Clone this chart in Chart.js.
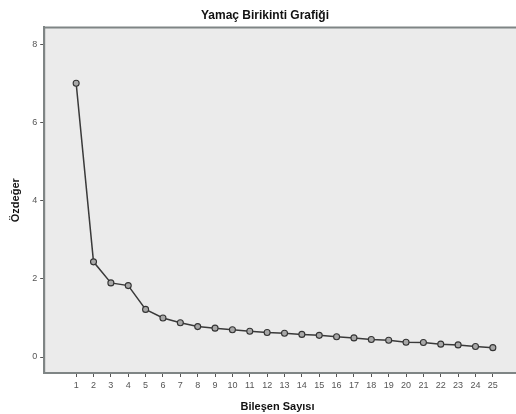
<!DOCTYPE html>
<html>
<head>
<meta charset="utf-8">
<script src="https://cdn.jsdelivr.net/npm/chart.js@4"></script>
<style>
  html, body { margin:0; padding:0; background:#fff; }
  #wrap { width:516px; height:414px; }
</style>
</head>
<body>
<div id="wrap"><canvas id="c" width="516" height="414"></canvas></div>
<script>
// bileşen numaraları ve özdeğerler
const components = [1,2,3,4,5,6,7,8,9,10,11,12,13,14,15,16,17,18,19,20,21,22,23,24,25];
const eigenvalues = [7.02,2.44,1.90,1.83,1.22,1.00,0.88,0.78,0.74,0.70,0.66,0.63,0.61,0.58,0.555,0.52,0.49,0.45,0.43,0.38,0.37,0.33,0.31,0.27,0.24];
const yTicks = [0,2,4,6,8];

const points = components.map((c,i)=>({ x: c, y: eigenvalues[i] }));

// gri arka plan + üst/sol çerçeve (sağ kenara kadar uzanıyor)
const plotBg = {
  id: "plotBg",
  beforeDraw(chart){
    const { ctx, chartArea: a } = chart;
    const right = chart.width;
    ctx.save();
    ctx.fillStyle = "#ebebeb";
    ctx.fillRect(a.left, a.top, right - a.left, a.bottom - a.top);
    ctx.strokeStyle = "#7f8585";
    ctx.lineWidth = 2;
    ctx.beginPath();
    ctx.moveTo(a.left, a.bottom);
    ctx.lineTo(a.left, a.top);
    ctx.lineTo(right, a.top);
    ctx.moveTo(a.right, a.bottom);
    ctx.lineTo(right, a.bottom);
    ctx.stroke();
    ctx.restore();
  }
};

const font = { family: "'Liberation Sans', Arial, sans-serif" };

new Chart(document.getElementById("c"), {
  type: "line",
  data: {
    datasets: [{
      data: points,
      borderColor: "#3a3a3a",
      borderWidth: 1.5,
      pointRadius: 3,
      pointBackgroundColor: "#a8a8a8",
      pointBorderColor: "#333333",
      pointBorderWidth: 1.1,
      tension: 0
    }]
  },
  options: {
    responsive: false,
    animation: false,
    layout: { padding: { left: 9, right: -5, top: 0, bottom: 0 } },
    plugins: {
      legend: { display: false },
      tooltip: { enabled: false },
      title: {
        display: true,
        text: "Yamaç Birikinti Grafiği",
        color: "#111",
        font: { ...font, size: 12, weight: "bold" },
        padding: { top: 8, bottom: 5 }
      }
    },
    scales: {
      x: {
        type: "linear",
        min: -0.84,
        max: 26.04,
        afterBuildTicks: (ax)=>{ ax.ticks = components.map(v=>({ value: v })); },
        ticks: { color: "#555", font: { ...font, size: 9 }, padding: 3, maxRotation: 0, autoSkip: false },
        grid: { drawOnChartArea: false, tickLength: 4, color: "#555" },
        border: { color: "#7f8585", width: 2 },
        title: { display: true, text: "Bileşen Sayısı", color: "#111", font: { ...font, size: 11, weight: "bold" }, padding: { top: 7, bottom: 0 } }
      },
      y: {
        min: -0.41,
        max: 8.45,
        afterBuildTicks: (ax)=>{ ax.ticks = yTicks.map(v=>({ value: v })); },
        ticks: { color: "#555", font: { ...font, size: 9 }, padding: 3 },
        grid: { drawOnChartArea: false, tickLength: 4, color: "#555" },
        border: { color: "#7f8585", width: 2 },
        title: { display: true, text: "Özdeğer", color: "#111", font: { ...font, size: 11, weight: "bold" }, padding: { top: 0, bottom: 7 } }
      }
    }
  },
  plugins: [plotBg]
});
</script>
</body>
</html>
